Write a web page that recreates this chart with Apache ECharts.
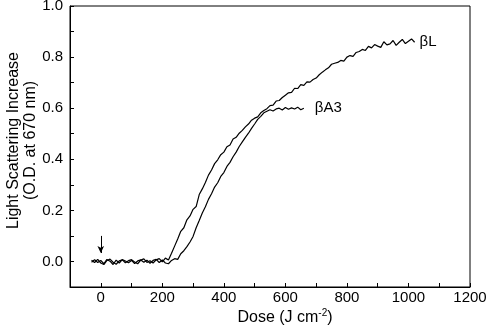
<!DOCTYPE html>
<html>
<head>
<meta charset="utf-8">
<script src="https://cdn.jsdelivr.net/npm/echarts@6/dist/echarts.min.js"></script>
<style>
html,body{margin:0;padding:0;background:#fff;}
#chart{width:491px;height:327px;}
</style>
</head>
<body>
<div id="chart"></div>
<script>
// Dose values (J cm^-2)
var dose = [-30,-20,-10,0,10,20,30,40,50,60,70,80,90,100,110,120,130,140,150,160,170,180,190,200,
  210,220,230,240,250,260,270,280,290,300,310,320,330,340,350,360,370,380,390,400,410,420,430,440,450,
  460,470,480,490,500,510,520,530,540,550,560,570,580,590,600,610,620,630,640,650,660,670,680,690,700,
  710,720,730,740,750,760,770,780,790,800,810,820,830,840,850,860,870,880,890,900,910,920,930,940,950,
  960,970,980,990,1000,1010,1020];

// βL light scattering (O.D. at 670 nm)
var odBetaL = [0.005,-0.004,0.008,-0.006,-0.012,0.004,0.009,-0.003,-0.011,0.002,0.006,-0.005,0.003,0.007,
  -0.002,-0.009,0.005,0.010,-0.004,0.003,-0.006,0.006,0.011,-0.002,0.013,0.006,0.032,0.06,0.088,0.118,
  0.132,0.163,0.178,0.204,0.215,0.262,0.284,0.309,0.338,0.358,0.383,0.398,0.418,0.428,0.449,0.456,0.479,
  0.486,0.502,0.513,0.527,0.538,0.553,0.561,0.566,0.582,0.591,0.598,0.61,0.612,0.628,0.63,0.642,0.651,
  0.66,0.662,0.678,0.677,0.692,0.689,0.703,0.702,0.712,0.718,0.731,0.741,0.75,0.758,0.772,0.776,0.779,
  0.787,0.784,0.8,0.806,0.803,0.818,0.822,0.83,0.826,0.842,0.836,0.849,0.843,0.838,0.86,0.848,0.852,
  0.865,0.846,0.858,0.869,0.853,0.862,0.871,0.858];

// βA3 light scattering (O.D. at 670 nm), same dose steps from -30 to 660
var odBetaA3 = [-0.003,0.007,-0.004,0.004,-0.009,0.008,0.001,-0.012,0.005,-0.006,0.007,0.002,-0.005,
  0.004,-0.008,0.002,0.006,-0.003,0.005,-0.007,0.004,0.008,-0.004,0.006,-0.006,-0.009,0.004,0.011,0.008,
  0.03,0.042,0.058,0.076,0.098,0.132,0.16,0.19,0.214,0.243,0.265,0.291,0.308,0.333,0.348,0.372,0.388,
  0.41,0.428,0.45,0.468,0.486,0.502,0.521,0.538,0.556,0.568,0.582,0.588,0.594,0.589,0.597,0.6,0.593,
  0.603,0.596,0.601,0.597,0.604,0.594,0.6];

var seriesNames = ['\u03b2L', '\u03b2A3'];
var xTitle = 'Dose (J cm{sup|-2})';
var yTitle = 'Light Scattering Increase\n(O.D. at 670 nm)';

function pairs(xs, ys){ var out=[]; for(var i=0;i<ys.length;i++) out.push([xs[i], ys[i]]); return out; }

var FONT = 'Liberation Sans, Arial, sans-serif';
var NARROW = '"Liberation Sans Narrow", "Arial Narrow", "Liberation Sans", Arial, sans-serif';
var chart = echarts.init(document.getElementById('chart'), null, {renderer:'canvas'});
chart.setOption({
  animation:false,
  backgroundColor:'#fff',
  grid:{left:70, top:6, right:21, bottom:40, show:true, borderColor:'#000', borderWidth:1,
    containLabel:false, outerBoundsMode:'none'},
  xAxis:{
    type:'value', min:-100, max:1200, interval:100,
    name:xTitle, nameLocation:'middle', nameGap:21, nameMoveOverlap:false,
    nameTextStyle:{fontFamily:NARROW, fontSize:16, color:'#000', padding:[0,0,0,30],
      rich:{sup:{fontFamily:NARROW, fontSize:10, verticalAlign:'top', padding:[0,0,9,0], color:'#000'}}},
    axisLine:{onZero:false, lineStyle:{color:'#000', width:1}},
    axisTick:{inside:true, length:4, lineStyle:{color:'#000'}},
    splitLine:{show:false},
    axisLabel:{fontFamily:NARROW, fontSize:15, color:'#000', margin:3,
      formatter:function(v){ return (Math.round(v/100)%2===0) ? String(v) : ''; }}
  },
  yAxis:{
    type:'value', min:-0.1, max:1.0, interval:0.1,
    name:yTitle, nameLocation:'middle', nameGap:31, nameMoveOverlap:false,
    nameTextStyle:{fontFamily:FONT, fontSize:16, color:'#000', lineHeight:17, padding:[0,0,0,12]},
    axisLine:{onZero:false, lineStyle:{color:'#000', width:1}},
    axisTick:{inside:true, length:4, lineStyle:{color:'#000'}},
    splitLine:{show:false},
    axisLabel:{fontFamily:NARROW, fontSize:15, color:'#000', margin:7,
      formatter:function(v){ var k=Math.round(v*10); return (k%2===0) ? v.toFixed(1) : ''; }}
  },
  series:[
    {
      name:seriesNames[0], type:'line', showSymbol:false, symbol:'none',
      data:pairs(dose, odBetaL),
      lineStyle:{color:'#000', width:1.2},
      endLabel:{show:true, formatter:'{a}', fontFamily:FONT, fontSize:15, color:'#000', distance:5},
      markLine:{
        silent:true, symbol:['none','arrow'], symbolSize:[5,7],
        lineStyle:{color:'#000', width:1, type:'solid'}, label:{show:false},
        data:[[{coord:[0,0.1]},{coord:[0,0.033]}]]
      }
    },
    {
      name:seriesNames[1], type:'line', showSymbol:false, symbol:'none',
      data:pairs(dose, odBetaA3),
      lineStyle:{color:'#000', width:1.2},
      endLabel:{show:true, formatter:'{a}', fontFamily:FONT, fontSize:15, color:'#000', distance:11}
    }
  ]
});
</script>
</body>
</html>
